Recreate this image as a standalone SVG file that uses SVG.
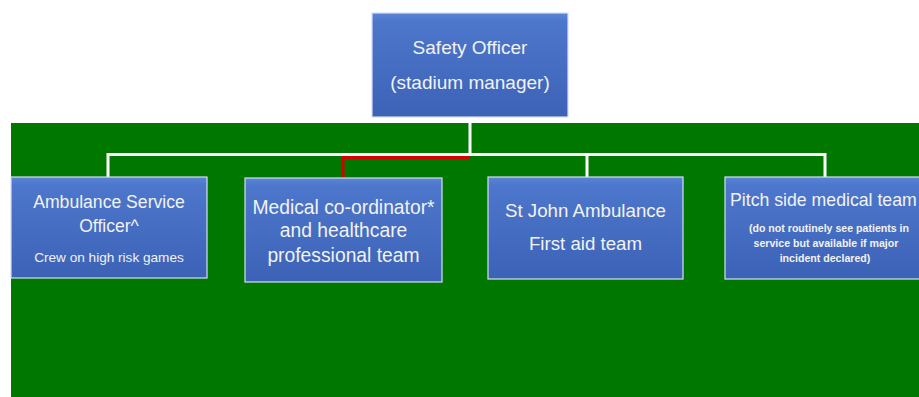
<svg xmlns="http://www.w3.org/2000/svg" width="919" height="397" viewBox="0 0 919 397">
<style>
.box{fill:url(#g);stroke:#d6def2;stroke-width:1.2}
.t{font-family:"Liberation Sans",Arial,sans-serif;fill:#f2f2f2;text-anchor:middle}
.c{fill:none;stroke:#ffffff;stroke-width:3}
</style>
<defs>
<linearGradient id="g" x1="0" y1="0" x2="0" y2="1">
<stop offset="0" stop-color="#5a84d4"/>
<stop offset="0.08" stop-color="#4d77cc"/>
<stop offset="1" stop-color="#3c62b6"/>
</linearGradient>
</defs>
<rect width="919" height="397" fill="#ffffff"/>
<rect id="field" x="11" y="123" width="908" height="274" fill="#007800"/>
<g id="connectors">
<path class="c" d="M470,117 V154.5 M108,177 V154.5 H825 V177 M587,154.5 V177"/>
<path d="M470,157.5 H343 V178" fill="none" stroke="#d40000" stroke-width="3"/>
</g>
<g id="safety-officer">
<rect class="box" x="372" y="13" width="196" height="104"/>
<text class="t" x="470" y="54" font-size="19">Safety Officer</text>
<text class="t" x="470" y="89" font-size="19">(stadium manager)</text>
</g>
<g id="ambulance-service">
<rect class="box" x="11" y="177" width="196" height="101"/>
<text class="t" x="109" y="208" font-size="17.6">Ambulance Service</text>
<text class="t" x="109" y="232" font-size="17.6">Officer^</text>
<text class="t" x="109" y="262" font-size="13.6">Crew on high risk games</text>
</g>
<g id="medical-coordinator">
<rect class="box" x="245" y="178" width="197" height="104"/>
<text class="t" x="343.5" y="214" font-size="19.3">Medical co-ordinator*</text>
<text class="t" x="343.5" y="237" font-size="19.3">and healthcare</text>
<text class="t" x="343.5" y="262" font-size="19.3">professional team</text>
</g>
<g id="st-john">
<rect class="box" x="488" y="177" width="195" height="102"/>
<text class="t" x="585.5" y="217" font-size="18.7">St John Ambulance</text>
<text class="t" x="585.5" y="250" font-size="18.7">First aid team</text>
</g>
<g id="pitch-side">
<rect class="box" x="725" y="177" width="210" height="102"/>
<text class="t" x="730" y="206" font-size="17.7" text-anchor="start" style="text-anchor:start">Pitch side medical team</text>
<text class="t" x="829" y="232" font-size="10.6" font-weight="bold">(do not routinely see patients in</text>
<text class="t" x="826" y="247" font-size="10.6" font-weight="bold">service but available if major</text>
<text class="t" x="825" y="262" font-size="10.6" font-weight="bold">incident declared)</text>
</g>
</svg>
